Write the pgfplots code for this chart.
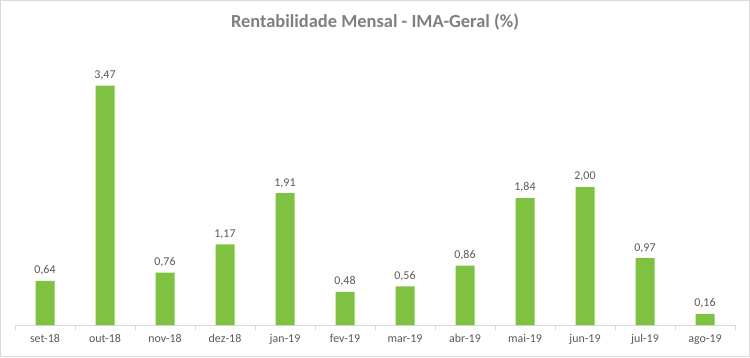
\documentclass[border=0pt]{standalone}
\usepackage{pgfplots}
\pgfplotsset{compat=1.18}
\usepackage{fontspec}
\setmainfont{Carlito}
\definecolor{bargreen}{HTML}{7FC241}
\definecolor{txtgray}{HTML}{595959}
\definecolor{ttlgray}{HTML}{7F7F7F}
\definecolor{lingray}{HTML}{D9D9D9}
\begin{document}
\begin{tikzpicture}[x=1bp,y=1bp]
\draw[lingray, line width=1bp, use as bounding box] (0.5,0.5) rectangle (749.5,356.5);
\node[font=\fontsize{18.5}{20}\selectfont\bfseries, text=ttlgray] at (375,335) {Rentabilidade Mensal - IMA-Geral (\%)};
\begin{axis}[
  at={(15bp,32bp)}, anchor=south west,
  scale only axis, width=720bp, height=276bp,
  xmin=-0.5, xmax=11.5, ymin=0, ymax=4,
  axis y line=none,
  axis x line*=bottom,
  axis line style={lingray, line width=1bp},
  xtick={0,...,11},
  xticklabels={set-18,out-18,nov-18,dez-18,jan-19,fev-19,mar-19,abr-19,mai-19,jun-19,jul-19,ago-19},
  major tick length=0pt,
  minor xtick={-0.5,0.5,...,11.5},
  minor tick length=5bp,
  minor tick style={lingray, line width=1bp},
  tick align=outside,
  xticklabel style={font=\fontsize{12}{14}\selectfont, text=txtgray, yshift=-6bp},
  ybar, bar width=19bp,
  nodes near coords={\pgfmathprintnumber[use comma,fixed,fixed zerofill,precision=2,assume math mode=true]{\pgfplotspointmeta}},
  nodes near coords style={font=\fontsize{12}{14}\selectfont, text=txtgray, yshift=2bp},
  clip=false,
]
\addplot[fill=bargreen, draw=none] coordinates {
(0,0.64) (1,3.47) (2,0.76) (3,1.17) (4,1.91) (5,0.48) (6,0.56) (7,0.86) (8,1.84) (9,2.00) (10,0.97) (11,0.16)};
\end{axis}
\end{tikzpicture}
\end{document}
